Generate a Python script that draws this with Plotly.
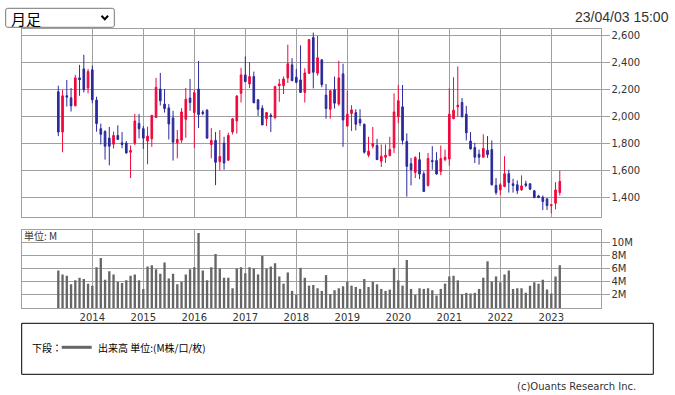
import plotly.graph_objects as go
import pandas as pd

W, H = 675, 395


def px(x):
    return x / W


def py(y):
    return 1 - y / H


# ---- data (monthly candles, May 2013 - Mar 2023) ----
months = [p.strftime("%Y-%m") for p in pd.period_range("2013-05", "2023-03", freq="M")]

open_ = [2185, 1885, 2155, 2140, 2080, 2288, 2355, 2213, 2348, 2123,
         1910, 1890, 1840, 1795, 1860, 1805, 1803, 1735, 1803, 1950,
         1910, 1818, 1835, 1993, 2205, 2093, 2065, 1990, 1805, 1825,
         1980, 2138, 2030, 2205, 2033, 2048, 1793, 1823, 1665, 1803,
         1675, 1885, 1968, 2173, 2310, 2243, 2298, 2125, 2063, 1985,
         2010, 1993, 2230, 2230, 2288, 2385, 2293, 2273, 2180, 2323,
         2588, 2323, 2423, 2160, 2055, 2200, 2093, 2318, 1930, 2023,
         2030, 1980, 1943, 1713, 1780, 1785, 1668, 1698, 1710, 1768,
         2000, 2073, 1815, 1650, 1585, 1680, 1575, 1488, 1673, 1673,
         1593, 1680, 1685, 1985, 2073, 2105, 2018, 1818, 1770, 1720,
         1698, 1750, 1755, 1488, 1455, 1480, 1575, 1500, 1493, 1455,
         1500, 1500, 1448, 1410, 1400, 1388, 1338, 1355, 1435]
high = [2230, 2198, 2273, 2213, 2310, 2385, 2460, 2355, 2380, 2148,
        1948, 1898, 1923, 1888, 1935, 1885, 1818, 1785, 2020, 2020,
        1930, 1925, 2010, 2288, 2325, 2205, 2093, 2043, 1900, 2063,
        2213, 2280, 2200, 2415, 2048, 2055, 1915, 1885, 1900, 1850,
        1880, 1990, 2160, 2363, 2448, 2405, 2335, 2130, 2085, 2035,
        2025, 2230, 2280, 2298, 2535, 2435, 2355, 2530, 2360, 2575,
        2625, 2600, 2423, 2243, 2193, 2298, 2415, 2393, 2193, 2085,
        2055, 2055, 1948, 1850, 1923, 1835, 1793, 1793, 1850, 2173,
        2235, 2235, 1875, 1693, 1705, 1735, 1593, 1730, 1780, 1735,
        1785, 1755, 2210, 2293, 2373, 2138, 2080, 1885, 1805, 1755,
        1868, 1855, 1823, 1543, 1505, 1705, 1605, 1538, 1525, 1563,
        1523, 1505, 1455, 1418, 1413, 1393, 1350, 1513, 1598]
low = [1855, 1735, 2075, 2038, 2080, 2155, 2180, 2173, 2100, 1888,
       1793, 1680, 1638, 1763, 1830, 1765, 1725, 1543, 1788, 1838,
       1760, 1645, 1775, 1993, 2083, 2030, 1830, 1673, 1690, 1805,
       1843, 2043, 1768, 1915, 2010, 1835, 1690, 1490, 1600, 1605,
       1675, 1868, 1873, 2105, 2260, 2213, 2100, 2005, 1938, 1930,
       1885, 1980, 2110, 2168, 2250, 2263, 2248, 2180, 2105, 2318,
       2210, 2305, 2218, 1985, 1985, 2060, 2080, 1775, 1925, 1893,
       1898, 1930, 1725, 1698, 1763, 1680, 1625, 1655, 1705, 1730,
       1950, 1793, 1405, 1488, 1543, 1535, 1443, 1480, 1605, 1568,
       1565, 1668, 1635, 1980, 2000, 1998, 1823, 1755, 1655, 1643,
       1698, 1693, 1488, 1418, 1418, 1475, 1435, 1435, 1425, 1448,
       1475, 1455, 1393, 1393, 1305, 1305, 1280, 1310, 1413]
close = [1885, 2155, 2145, 2080, 2288, 2275, 2200, 2335, 2125, 1948,
         1868, 1780, 1780, 1860, 1830, 1793, 1730, 1748, 1968, 1910,
         1840, 1855, 2010, 2218, 2118, 2060, 1945, 1810, 1830, 2035,
         2130, 2105, 2178, 2015, 2023, 1840, 1823, 1660, 1703, 1655,
         1860, 1983, 2153, 2310, 2260, 2298, 2103, 2055, 1938, 2030,
         2000, 2223, 2243, 2280, 2393, 2268, 2255, 2180, 2325, 2573,
         2330, 2438, 2238, 2060, 2193, 2100, 2288, 1975, 2018, 2050,
         1943, 1953, 1735, 1743, 1800, 1680, 1705, 1713, 1755, 2035,
         2118, 1823, 1630, 1605, 1695, 1573, 1443, 1688, 1665, 1573,
         1688, 1698, 2018, 2048, 2085, 1998, 1880, 1760, 1698, 1698,
         1763, 1718, 1493, 1435, 1493, 1575, 1510, 1488, 1450, 1485,
         1488, 1460, 1398, 1398, 1368, 1338, 1345, 1455, 1518]
volume_m = [5.7, 5.1, 4.9, 3.6, 4.2, 4.6, 4.4, 3.7, 3.4, 6.2,
            7.6, 4.3, 5.6, 5.1, 4.0, 3.8, 4.2, 4.9, 5.1, 4.2,
            2.9, 6.3, 6.5, 5.9, 5.2, 6.9, 4.5, 5.2, 3.6, 4.0,
            5.1, 5.9, 6.2, 11.4, 5.7, 4.2, 6.2, 8.2, 6.0, 4.6,
            4.6, 3.0, 6.0, 6.2, 5.3, 6.2, 6.0, 5.1, 7.9, 6.0,
            6.3, 6.8, 4.8, 3.7, 5.4, 2.6, 2.0, 6.1, 4.6, 3.4,
            3.5, 3.0, 2.6, 5.0, 2.1, 2.7, 3.0, 3.3, 4.0, 3.4,
            3.2, 2.9, 4.4, 3.2, 4.0, 3.6, 2.9, 2.6, 2.8, 6.1,
            4.2, 3.4, 7.3, 2.9, 2.0, 3.0, 2.9, 3.0, 2.7, 1.9,
            2.9, 3.7, 4.8, 4.9, 4.2, 2.1, 2.3, 2.2, 2.3, 2.9,
            4.6, 7.1, 4.0, 4.8, 3.9, 5.1, 5.7, 2.9, 3.0, 3.0,
            2.3, 3.4, 3.9, 3.7, 4.3, 2.8, 2.2, 4.8, 6.5]

years = ["2014", "2015", "2016", "2017", "2018", "2019", "2020", "2021", "2022", "2023"]
price_ticks = [1400, 1600, 1800, 2000, 2200, 2400, 2600]
vol_ticks = [2, 4, 6, 8, 10]
vol_labels = ["2M", "4M", "6M", "8M", "10M"]

# ---- style ----
RED = "#f0073c"
BLUE = "#2a2a9c"
VOLC = "#666666"
GRID = "#a0a0a0"
TXT = "#333333"
AXFONT = dict(family="DejaVu Sans", size=10, color=TXT)
CJK = "Noto Sans CJK JP"

idx = list(range(len(months)))
year_idx = [months.index(y + "-01") for y in years]
xrange_ = [-8.66, 127.58]

fig = go.Figure()
fig.add_trace(go.Candlestick(
    x=idx, open=open_, high=high, low=low, close=close,
    increasing=dict(line=dict(color=RED, width=1), fillcolor=RED),
    decreasing=dict(line=dict(color=BLUE, width=1), fillcolor=BLUE),
    whiskerwidth=0, xaxis="x", yaxis="y", showlegend=False, hoverinfo="skip",
))
fig.add_trace(go.Bar(
    x=idx, y=volume_m, marker=dict(color=VOLC, line=dict(width=0)), width=0.55,
    xaxis="x2", yaxis="y2", showlegend=False, hoverinfo="skip",
))

xdom = [px(21.5), px(600.5)]
common_x = dict(domain=xdom, range=xrange_, tickmode="array", tickvals=year_idx,
                showgrid=True, gridcolor=GRID, gridwidth=1, zeroline=False,
                showline=True, mirror=True, linecolor=GRID, linewidth=1,
                ticks="", automargin=False, fixedrange=True)

fig.update_layout(
    width=W, height=H, margin=dict(l=0, r=0, t=0, b=0),
    paper_bgcolor="white", plot_bgcolor="white",
    boxgap=0.45,
    showlegend=False,
    xaxis=dict(**common_x, anchor="y", showticklabels=False,
               rangeslider=dict(visible=False)),
    yaxis=dict(domain=[py(217.3), py(28.7)], range=[1251, 2654], side="right",
               anchor="x", tickmode="array", tickvals=price_ticks, tickformat=",d",
               ticks="outside", ticklen=8, tickcolor=GRID, tickwidth=1,
               showgrid=True, gridcolor=GRID, gridwidth=1, zeroline=False,
               showline=True, mirror=True, linecolor=GRID, linewidth=1,
               tickfont=AXFONT, automargin=False, fixedrange=True),
    xaxis2=dict(**common_x, anchor="y2", matches="x", showticklabels=True,
                ticktext=years, tickfont=AXFONT),
    yaxis2=dict(domain=[py(308), py(229.7)], range=[0, 11.9], side="right",
                anchor="x2", tickmode="array", tickvals=vol_ticks, ticktext=vol_labels,
                ticks="outside", ticklen=8, tickcolor=GRID, tickwidth=1,
                showgrid=True, gridcolor=GRID, gridwidth=1, zeroline=False,
                showline=True, mirror=True, linecolor=GRID, linewidth=1,
                tickfont=AXFONT, automargin=False, fixedrange=True),
)


def rounded_rect(x0, y0, x1, y1, r):
    pts = [
        f"M {px(x0 + r)},{py(y0)}",
        f"L {px(x1 - r)},{py(y0)}",
        f"Q {px(x1)},{py(y0)} {px(x1)},{py(y0 + r)}",
        f"L {px(x1)},{py(y1 - r)}",
        f"Q {px(x1)},{py(y1)} {px(x1 - r)},{py(y1)}",
        f"L {px(x0 + r)},{py(y1)}",
        f"Q {px(x0)},{py(y1)} {px(x0)},{py(y1 - r)}",
        f"L {px(x0)},{py(y0 + r)}",
        f"Q {px(x0)},{py(y0)} {px(x0 + r)},{py(y0)}",
        "Z",
    ]
    return " ".join(pts)


shapes = [
    # dropdown box
    dict(type="path", xref="paper", yref="paper",
         path=rounded_rect(5.7, 8.3, 114.3, 27.3, 2),
         line=dict(color="#767676", width=1), fillcolor="white"),
    # dropdown chevron
    dict(type="path", xref="paper", yref="paper",
         path=f"M {px(101.5)},{py(15.8)} L {px(104.8)},{py(19.2)} L {px(108.1)},{py(15.8)}",
         line=dict(color="black", width=2)),
    # legend box
    dict(type="rect", xref="paper", yref="paper",
         x0=px(21.7), x1=px(653.3), y0=py(374.3), y1=py(323.3),
         line=dict(color="black", width=1)),
    # legend line sample
    dict(type="line", xref="paper", yref="paper",
         x0=px(61.7), x1=px(91.7), y0=py(347.3), y1=py(347.3),
         line=dict(color=VOLC, width=3)),
]
fig.update_layout(shapes=shapes)

annotations = [
    dict(text="月足", x=px(10), y=py(18.3), xanchor="left", yanchor="middle",
         font=dict(family=CJK, size=15, color="black")),
    dict(text="23/04/03 15:00", x=px(670), y=py(17), xanchor="right", yanchor="middle",
         font=dict(family="Liberation Sans", size=14, color=TXT)),
    dict(text="単位: M", x=px(22.7), y=py(235.5), xanchor="left", yanchor="middle",
         font=dict(family=CJK, size=10, color=TXT)),
    dict(text="下段：", x=px(31), y=py(347.3), xanchor="left", yanchor="middle",
         font=dict(family=CJK, size=10, color="black")),
    dict(text="出来高 単位:(M株/口/枚)", x=px(96.7), y=py(347.3), xanchor="left",
         yanchor="middle", font=dict(family=CJK, size=10, color="black")),
    dict(text="(c)Ouants Research Inc.", x=px(636.7), y=py(386.7), xanchor="right",
         yanchor="middle", font=dict(family="DejaVu Sans", size=10, color=TXT)),
]
for a in annotations:
    a.update(xref="paper", yref="paper", showarrow=False, borderpad=0)
fig.update_layout(annotations=annotations)

fig.write_html("out.html", config={"displayModeBar": False, "staticPlot": True},
               post_script="document.body.style.margin='0';document.body.style.overflow='hidden';")
